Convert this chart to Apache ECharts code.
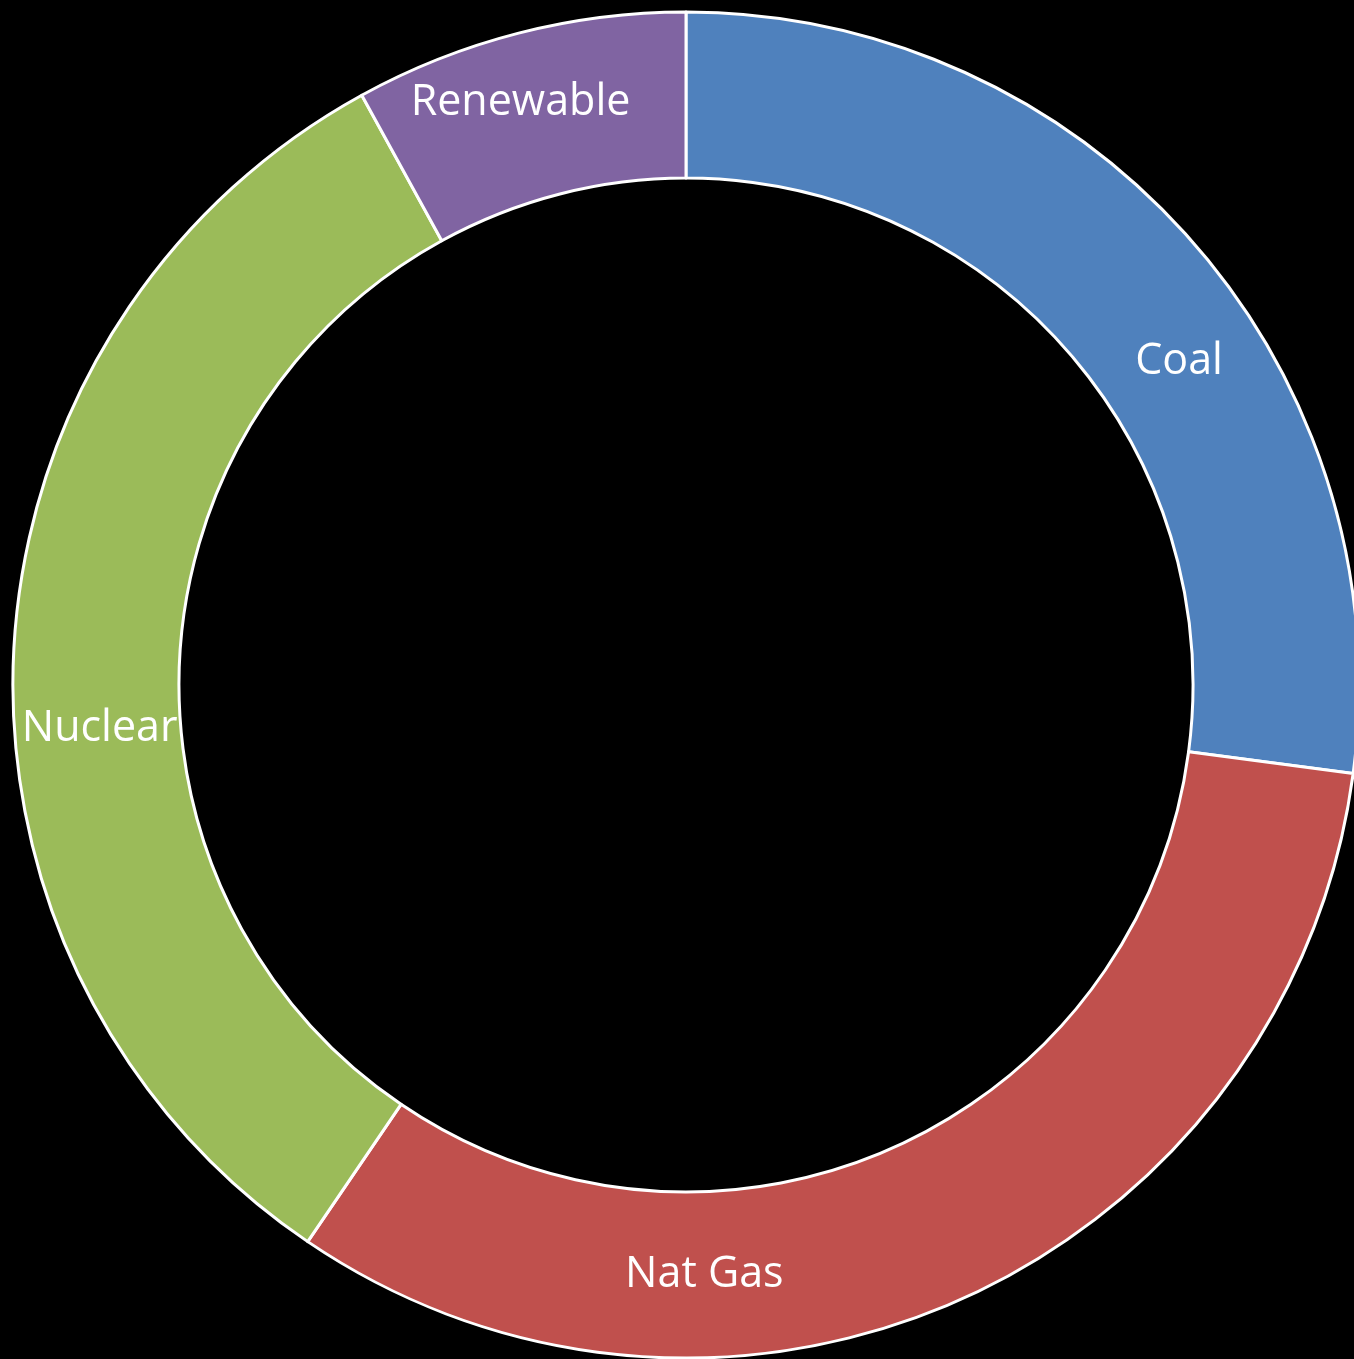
<!DOCTYPE html>
<html>
<head>
<meta charset="utf-8">
<script src="https://cdn.jsdelivr.net/npm/echarts@6/dist/echarts.min.js"></script>
<style>
html,body{margin:0;padding:0;background:#000;}
#chart{width:1354px;height:1359px;}
</style>
</head>
<body>
<div id="chart"></div>
<script>
const categories = ['Coal', 'Nat Gas', 'Nuclear', 'Renewable'];
const values = [27.1, 32.4, 32.5, 8.0];
const colors = ['#4F81BD', '#C0504D', '#9BBB59', '#8064A2'];

// label nudges (px) relative to the slice midpoint, matching the reference placement
const labelShift = [[47, 68], [-224, 49], [6, 72], [-18, -8]];

const chart = echarts.init(document.getElementById('chart'));
chart.setOption({
  backgroundColor: '#000000',
  animation: false,
  series: [{
    type: 'pie',
    center: [686, 685],
    radius: [507, 673],
    startAngle: 90,
    clockwise: true,
    avoidLabelOverlap: false,
    label: {
      show: true,
      position: 'inside',
      formatter: '{b}',
      color: '#ffffff',
      fontFamily: 'Open Sans',
      fontSize: 43,
      textBorderWidth: 0
    },
    labelLine: { show: false },
    labelLayout: function (p) {
      const s = labelShift[p.dataIndex];
      return { dx: s[0], dy: s[1] };
    },
    itemStyle: { borderColor: '#ffffff', borderWidth: 3 },
    emphasis: { disabled: true },
    data: categories.map((c, i) => ({ name: c, value: values[i], itemStyle: { color: colors[i] } }))
  }]
});
</script>
</body>
</html>
